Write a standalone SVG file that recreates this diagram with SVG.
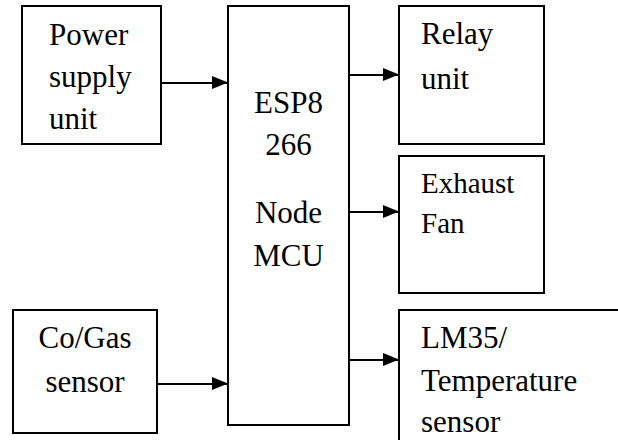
<svg xmlns="http://www.w3.org/2000/svg" width="618" height="440" viewBox="0 0 618 440">
<defs>
<style>
.box{fill:#fff;stroke:#000;stroke-width:2}
text{font-family:'Liberation Serif','Times New Roman',serif;font-size:31px;fill:#000}
.s{font-size:29px}
.c{text-anchor:middle}
.ln{stroke:#000;stroke-width:2;fill:none;marker-end:url(#ah)}
</style>
<marker id="ah" markerWidth="16" markerHeight="14" refX="16" refY="7" orient="auto" markerUnits="userSpaceOnUse">
<path d="M0,0 L16,6.5 L0,13 Z" fill="#000"/>
</marker>
</defs>
<rect width="618" height="440" fill="#fff"/>
<g id="connectors">
<line class="ln" x1="161" y1="83" x2="228" y2="83"/>
<line class="ln" x1="157" y1="384" x2="228" y2="384"/>
<line class="ln" x1="349" y1="75" x2="399" y2="75"/>
<line class="ln" x1="349" y1="212" x2="399" y2="212"/>
<line class="ln" x1="349" y1="360" x2="399" y2="360"/>
</g>
<g id="power">
<rect class="box" x="22" y="6" width="139" height="138"/>
<text x="49" y="45">Power</text>
<text x="49" y="87">supply</text>
<text x="49" y="129">unit</text>
</g>
<g id="esp">
<rect class="box" x="228" y="6" width="121" height="419"/>
<text class="c" x="288.5" y="113">ESP8</text>
<text class="c" x="288.5" y="155">266</text>
<text class="c" x="288.5" y="223">Node</text>
<text class="c" x="288.5" y="266">MCU</text>
</g>
<g id="relay">
<rect class="box" x="399" y="6" width="145" height="138"/>
<text x="421" y="44">Relay</text>
<text x="421" y="89">unit</text>
</g>
<g id="fan">
<rect class="box" x="399" y="156" width="145" height="137"/>
<text class="s" x="421" y="193">Exhaust</text>
<text class="s" x="421" y="233">Fan</text>
</g>
<g id="cogas">
<rect class="box" x="13" y="310" width="144" height="123"/>
<text class="c" x="85" y="348">Co/Gas</text>
<text class="c" x="85" y="392">sensor</text>
</g>
<g id="lm35">
<rect class="box" x="399" y="310" width="240" height="150"/>
<text x="421" y="348">LM35/</text>
<text x="421" y="391">Temperature</text>
<text x="421" y="432">sensor</text>
</g>
</svg>
